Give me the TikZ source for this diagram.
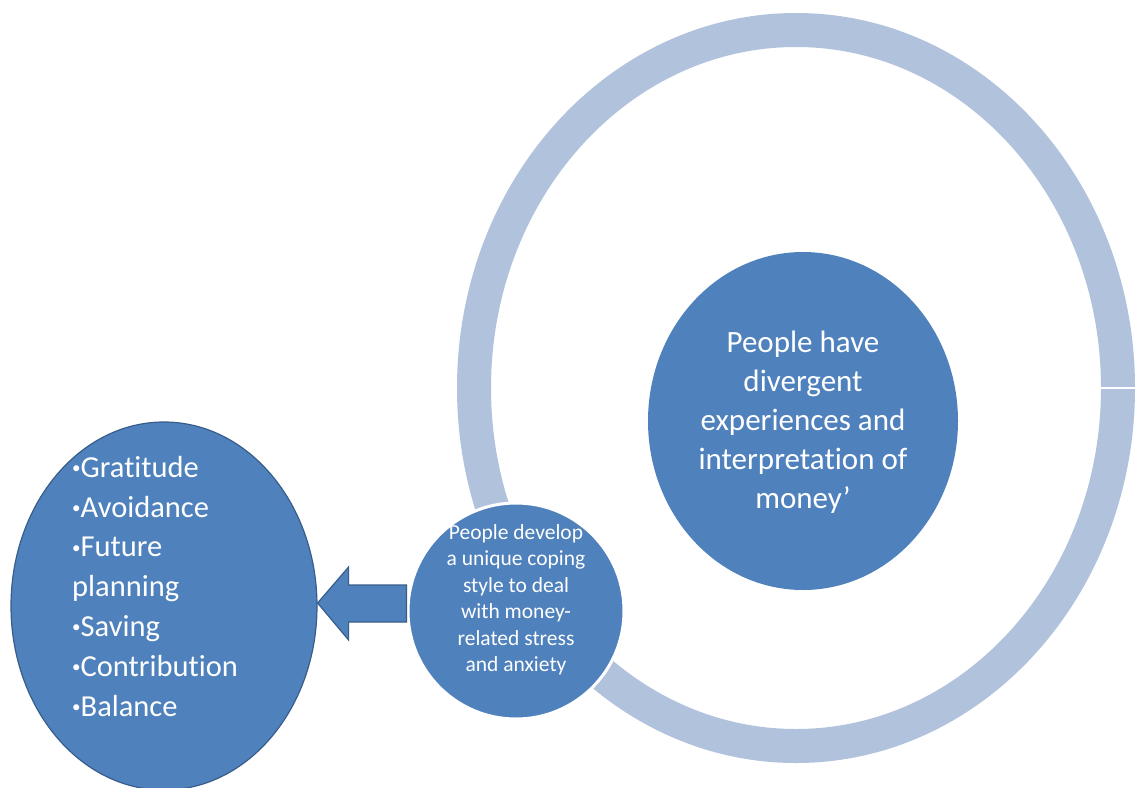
\documentclass[tikz,border=0pt]{standalone}
\usepackage{fontspec}
\setmainfont[Ligatures=NoCommon]{Carlito}
\usetikzlibrary{shapes.geometric,calc}
\definecolor{blueA}{HTML}{4F81BD}
\definecolor{blueLine}{HTML}{385D8A}
\definecolor{ringC}{HTML}{B1C2DD}
\newcommand{\smbul}{\raisebox{0.12em}{\fontsize{17}{17}\selectfont •}}
\tikzset{
  blob/.style={ellipse, fill=blueA, inner sep=0pt},
  bigtxt/.style={text=white, align=center, font=\fontsize{31}{39}\selectfont, inner sep=0pt},
  smalltxt/.style={text=white, align=center, font=\fontsize{21.5}{26.5}\selectfont, inner sep=0pt},
  listtxt/.style={text=white, align=left, font=\fontsize{30.5}{39.8}\selectfont, inner sep=0pt, anchor=north west},
}
\begin{document}
\begin{tikzpicture}[x=1pt,y=-1pt]
\useasboundingbox (0,0) rectangle (1143,787);
% outer ring
\draw[ringC, line width=34pt] (796,388) ellipse [x radius=322, y radius=358];
\coordinate (seamA) at (1098,388);
\coordinate (seamB) at (1140,388);
\draw[white, line width=1.6pt] (seamA) -- (seamB);
% central circle
\node[blob, minimum width=310, minimum height=338] (core) at (803,421) {};
\node[bigtxt] (coretxt) at (803,422) {People have\\divergent\\experiences and\\interpretation of\\money’};
% left ellipse
\node[blob, draw=blueLine, line width=1.2pt, minimum width=306, minimum height=368] (list) at (164,606) {};
\node[listtxt] (listtxt) at (72,456) {\smbul Gratitude\\\smbul Avoidance\\\smbul Future\\planning\\\smbul Saving\\\smbul Contribution\\\smbul Balance};
% small circle
\node[blob, draw=white, line width=3pt, minimum width=216, minimum height=216] (cope) at (516,611) {};
% block arrow from small circle to list
\coordinate (tip) at (list.east |- 0,603);
\draw[fill=blueA, draw=blueLine, line width=1.2pt]
  (tip) -- ($(tip)+(31,-36)$) -- ($(tip)+(31,-18)$) -- ($(cope.west |- tip)+(0,-18)$)
  -- ($(cope.west |- tip)+(0,19)$) -- ($(tip)+(31,19)$) -- ($(tip)+(31,37)$) -- cycle;
\node[smalltxt] (copetxt) at (516,600) {People develop\\a unique coping\\style to deal\\with money-\\related stress\\and anxiety};
\end{tikzpicture}
\end{document}
